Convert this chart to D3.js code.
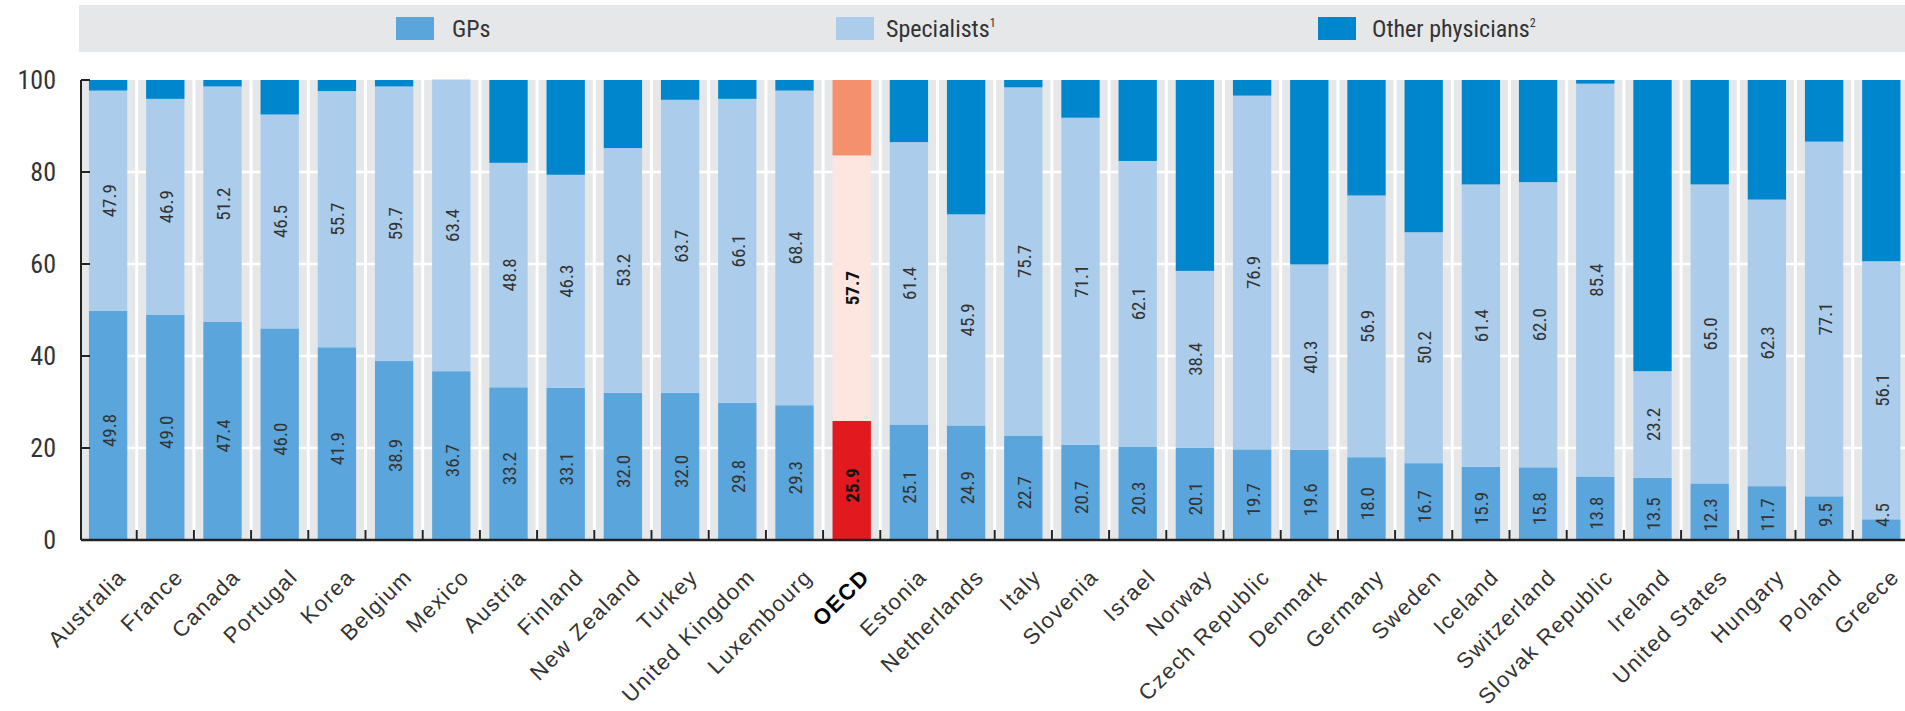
<!DOCTYPE html>
<html>
<head>
<meta charset="utf-8">
<script src="https://cdn.jsdelivr.net/npm/d3@7"></script>
<style>
  html, body { margin: 0; padding: 0; background: #fff; overflow: hidden; }
  svg { display: block; }
  .narrow { font-family: "Liberation Sans Narrow", "Arial Narrow", "Roboto Condensed", "DejaVu Sans Condensed", sans-serif; }
</style>
</head>
<body>
<svg id="chart" width="1905" height="711"></svg>
<script>
// ---- data ----
const countries = ["Australia","France","Canada","Portugal","Korea","Belgium","Mexico","Austria","Finland","New Zealand","Turkey","United Kingdom","Luxembourg","OECD","Estonia","Netherlands","Italy","Slovenia","Israel","Norway","Czech Republic","Denmark","Germany","Sweden","Iceland","Switzerland","Slovak Republic","Ireland","United States","Hungary","Poland","Greece"];
const gps =         [49.8,49.0,47.4,46.0,41.9,38.9,36.7,33.2,33.1,32.0,32.0,29.8,29.3,25.9,25.1,24.9,22.7,20.7,20.3,20.1,19.7,19.6,18.0,16.7,15.9,15.8,13.8,13.5,12.3,11.7,9.5,4.5];
const specialists = [47.9,46.9,51.2,46.5,55.7,59.7,63.4,48.8,46.3,53.2,63.7,66.1,68.4,57.7,61.4,45.9,75.7,71.1,62.1,38.4,76.9,40.3,56.9,50.2,61.4,62.0,85.4,23.2,65.0,62.3,77.1,56.1];
const others =      [2.3,4.1,1.4,7.5,2.4,1.4,0.0,18.0,20.6,14.8,4.3,4.1,2.3,16.4,13.5,29.2,1.6,8.2,17.6,41.5,3.4,40.1,25.1,33.1,22.7,22.2,0.8,63.3,22.7,26.0,13.4,39.4];
const yTicks = [0,20,40,60,80,100];
const seriesNames = ["GPs","Specialists","Other physicians"];
const seriesSup = ["","1","2"];

// ---- styles ----
const colors = {gp:"#5aa5dc", spec:"#abcdeb", other:"#0086cd"};
const oecdColors = {gp:"#e2191e", spec:"#fde6e0", other:"#f5906f"};
const bgGray = "#e6e7e8";

const svg = d3.select("#chart");
const W = 1905;
const plotTop = 80, plotBottom = 540, plotLeft = 81;

const rows = countries.map((c,i)=>({country:c, gp:gps[i], spec:specialists[i], other:others[i]}));
const keys = ["gp","spec","other"];
const stacked = d3.stack().keys(keys)(rows);

const x = d3.scaleBand().domain(countries).range([79.5, 79.5 + countries.length*57.2]).paddingInner(0.33).paddingOuter(0.165);
const y = d3.scaleLinear().domain([0,100]).range([plotBottom, plotTop]);
const step = x.step();

// legend band
svg.append("rect").attr("x",79).attr("y",5).attr("width",W-79).attr("height",47).attr("fill",bgGray);
const legX = [[396,452],[836,886],[1318,1372]];
keys.forEach((k,i)=>{
  svg.append("rect").attr("x",legX[i][0]).attr("y",17).attr("width",38).attr("height",23).attr("fill",colors[k]);
  const t = svg.append("text").attr("class","narrow").attr("x",legX[i][1]).attr("y",37)
     .attr("font-size",24).attr("fill","#333").text(seriesNames[i]);
  if (seriesSup[i]) t.append("tspan").attr("font-size",12).attr("dy",-10).text(seriesSup[i]);
});

// plot background
svg.append("rect").attr("x",plotLeft).attr("y",plotTop).attr("width",W-plotLeft).attr("height",plotBottom-plotTop).attr("fill",bgGray);

// horizontal gridlines
svg.append("g").selectAll("line").data(yTicks.filter(t=>t>0 && t<100)).join("line")
  .attr("x1",plotLeft).attr("x2",W).attr("y1",d=>y(d)).attr("y2",d=>y(d))
  .attr("stroke","#fff").attr("stroke-width",2.5);

// vertical separators
const bounds = countries.slice(1).map(c=>x(c) - step*x.paddingInner()/2);
svg.append("g").selectAll("line").data(bounds).join("line")
  .attr("x1",d=>d).attr("x2",d=>d).attr("y1",plotTop).attr("y2",plotBottom)
  .attr("stroke","#fff").attr("stroke-width",3);

// bars
const gBars = svg.append("g");
stacked.forEach(s=>{
  gBars.append("g").selectAll("rect").data(s).join("rect")
    .attr("x",d=>x(d.data.country)).attr("width",x.bandwidth())
    .attr("y",d=>y(d[1])).attr("height",d=>Math.max(0,y(d[0])-y(d[1])))
    .attr("fill",d=>d.data.country==="OECD" ? oecdColors[s.key] : colors[s.key]);
});

// value labels
const gLab = svg.append("g").attr("class","narrow");
rows.forEach(r=>{
  const cx = x(r.country) + x.bandwidth()/2;
  const gy = Math.min(y(r.gp/2)+5, plotBottom-25);
  const sy = y(r.gp + r.spec/2);
  const isO = r.country==="OECD";
  [[gy, r.gp],[sy, r.spec]].forEach(([yy,v])=>{
    gLab.append("text")
      .attr("transform",`translate(${cx+1},${yy}) rotate(-90)`)
      .attr("text-anchor","middle").attr("dominant-baseline","central")
      .attr("font-size",19).attr("fill", isO ? "#111" : "#333")
      .attr("font-weight", isO ? "bold" : "normal")
      .text(d3.format(".1f")(v));
  });
});

// axes
const yAxis = svg.append("g");
yAxis.append("line").attr("x1",plotLeft).attr("x2",plotLeft).attr("y1",plotTop).attr("y2",plotBottom).attr("stroke","#222").attr("stroke-width",2);
yAxis.selectAll("line.tk").data(yTicks).join("line").attr("class","tk")
  .attr("x1",plotLeft).attr("x2",plotLeft+9).attr("y1",d=>y(d)).attr("y2",d=>y(d)).attr("stroke","#222").attr("stroke-width",2);
yAxis.selectAll("text").data(yTicks).join("text").attr("class","narrow")
  .attr("x",56).attr("y",d=>y(d)).attr("dy","0.36em").attr("text-anchor","end")
  .attr("font-size",26).attr("fill","#333").text(d=>d);

svg.append("line").attr("x1",plotLeft).attr("x2",W).attr("y1",plotBottom).attr("y2",plotBottom).attr("stroke","#222").attr("stroke-width",2.5);
svg.append("g").selectAll("line").data(bounds).join("line")
  .attr("x1",d=>d).attr("x2",d=>d).attr("y1",plotBottom-10).attr("y2",plotBottom).attr("stroke","#222").attr("stroke-width",2);

// x labels
svg.append("g").selectAll("text").data(countries).join("text")
  .attr("transform",d=>`translate(${x(d)+x.bandwidth()/2+8},${plotBottom+27}) rotate(-45)`)
  .attr("text-anchor","end").attr("dominant-baseline","hanging")
  .attr("font-family","'Liberation Sans', Arial, sans-serif")
  .attr("font-size",22).attr("letter-spacing",1.5)
  .attr("font-weight",d=>d==="OECD"?"bold":"normal")
  .attr("fill",d=>d==="OECD"?"#000":"#333")
  .text(d=>d);
</script>
</body>
</html>
